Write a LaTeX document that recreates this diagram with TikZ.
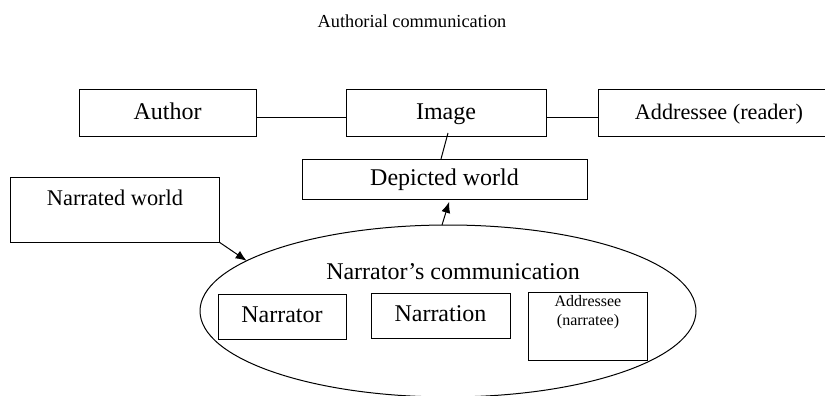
\documentclass[tikz,border=0pt]{standalone}
\usepackage{fontspec}
\setmainfont{Liberation Serif}
\usetikzlibrary{shapes.geometric,arrows.meta,calc}
\begin{document}
\begin{tikzpicture}[x=1pt,y=-1pt,
  box/.style={draw,line width=1pt,rectangle,inner sep=0pt,outer sep=0pt,text height=17pt,text depth=5pt},
  txt/.style={inner sep=0pt,font=\fontsize{24}{28}\selectfont},
  conn/.style={line width=1pt},
  arr/.style={line width=1pt,-{Latex[length=11pt,width=9pt]}}]
\useasboundingbox (0,0) rectangle (825,396);
% title
\node[inner sep=0pt,font=\fontsize{18.3}{22}\selectfont] (title) at (412,21) {Authorial communication};
% top row
\node[box,minimum width=177pt,minimum height=46pt,font=\fontsize{24}{28}\selectfont] (author) at (167.5,113) {Author};
\node[box,minimum width=200pt,minimum height=46pt,font=\fontsize{24}{28}\selectfont] (image) at (446,113) {Image};
\node[box,minimum width=242pt,minimum height=46pt,font=\fontsize{22.2}{26}\selectfont] (reader) at (719,113) {Addressee (reader)};
% depicted world
\node[box,minimum width=285pt,minimum height=40pt,font=\fontsize{24}{28}\selectfont] (dep) at (444.5,179) {Depicted world};
% narrated world
\node[box,minimum width=209pt,minimum height=65pt] (nw) at (114.5,209.5) {};
\node[inner sep=0pt,font=\fontsize{22.4}{26}\selectfont] (nwt) at (115,198) {Narrated world};
% ellipse
\node[draw,ellipse,line width=1pt,minimum width=496pt,minimum height=172pt,inner sep=0pt,outer sep=0pt] (nc) at (448,311) {};
\node[txt] (nct) at (453,272) {Narrator’s communication};
\node[box,minimum width=128pt,minimum height=45pt,font=\fontsize{24}{28}\selectfont] (narrator) at (282,316.5) {Narrator};
\node[box,minimum width=139pt,minimum height=45pt,font=\fontsize{24}{28}\selectfont] (narration) at (440.5,315.5) {Narration};
\node[box,minimum width=119pt,minimum height=68pt] (narratee) at (587.5,326) {};
\node[inner sep=0pt,align=center,font=\fontsize{16}{19}\selectfont] (narrateet) at (588,312.5) {Addressee\\(narratee)};
% connectors
\draw[conn] ([yshift=-4pt]author.east) -- ([yshift=-4pt]image.west);
\draw[conn] ([yshift=-4pt]image.east) -- ([yshift=-4pt]reader.west);
\coordinate (x448) at (448,0);
\coordinate (x441) at (441,0);
\coordinate (x442) at (442,0);
\coordinate (x450) at (450,0);
\draw[conn] ($(image.south -| x448)+(0,-3)$) -- (dep.north -| x441);
\draw[arr] (nw.south east) -- (nc.166.4);
\draw[arr,shorten >=3pt] (nc.north -| x442) -- (dep.south -| x450);
\end{tikzpicture}
\end{document}
